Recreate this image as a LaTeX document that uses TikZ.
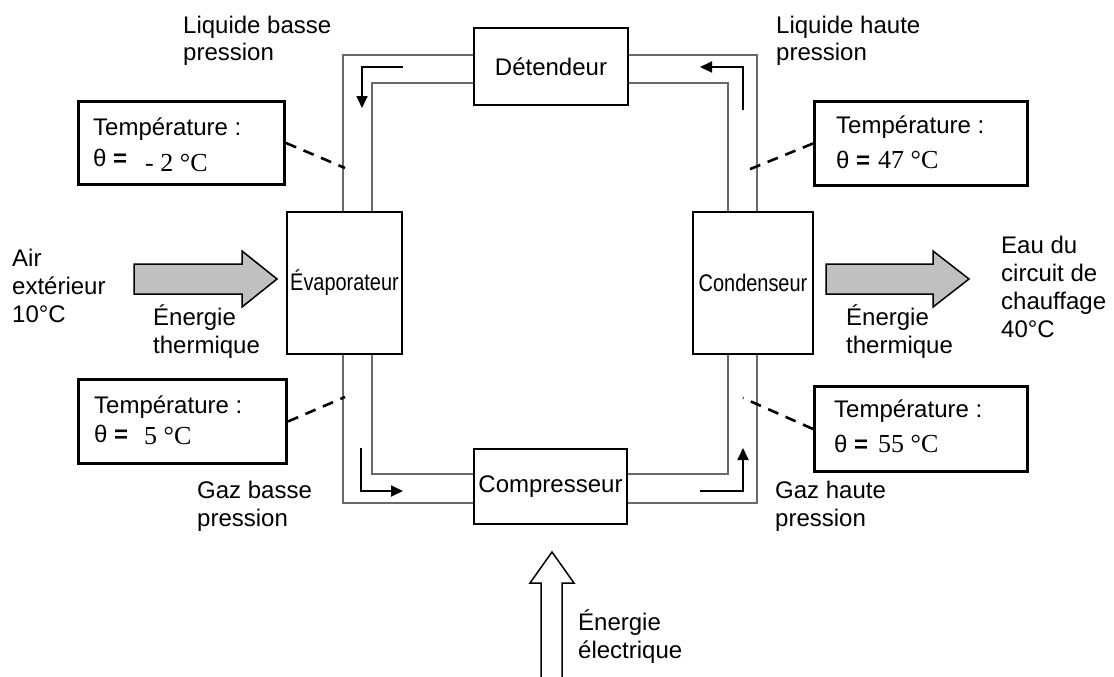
\documentclass[tikz,border=0pt]{standalone}
\usepackage{fontspec}
\setmainfont{Liberation Sans}
\newfontfamily\timesfont{Liberation Serif}
\usetikzlibrary{arrows.meta}

\tikzset{
  pipe/.style={draw={rgb,255:red,105;green,105;blue,105}, line width=2pt},
  unit/.style={draw, fill=white, line width=1.2pt, inner sep=0pt, font=\fontsize{24}{28}\selectfont},
  tempbox/.style={draw, line width=3pt, inner sep=0pt, anchor=north west},
  txt/.style={align=left, anchor=base west, inner sep=0pt, font=\fontsize{24}{28}\selectfont},
  flow/.style={line width=1.8pt, -{Triangle[length=12pt,width=11pt]}},
  probe/.style={line width=2.6pt, dash pattern=on 11pt off 8pt},
  heat/.style={draw, line width=1.5pt, line join=miter},
}
\newcommand{\narrow}[1]{\scalebox{0.83}[1]{#1}}

\begin{document}
\begin{tikzpicture}[x=1pt, y=-1pt]
    \useasboundingbox (0,0) rectangle (1114,677);

    \draw[pipe] (343,55) rectangle (757,503);
    \draw[pipe] (372,83) rectangle (728,474);

    \node[unit, minimum width=154pt, minimum height=77pt] (det) at (551,66.5) {Détendeur};
    \node[unit, minimum width=153pt, minimum height=75pt] (comp) at (550.5,486.5) {Compresseur};
    \node[unit, minimum width=115pt, minimum height=142pt] (evap) at (344.5,283) {\narrow{Évaporateur}};
    \node[unit, minimum width=120pt, minimum height=142pt] (cond) at (753,283) {\narrow{Condenseur}};

    \node[tempbox, minimum width=206pt, minimum height=83pt] (ttl) at (77,100) {};
    \node[tempbox, minimum width=208pt, minimum height=84pt] (tbl) at (77,378) {};
    \node[tempbox, minimum width=213pt, minimum height=84pt] (ttr) at (813,100) {};
    \node[tempbox, minimum width=213pt, minimum height=85pt] (tbr) at (813,385) {};

    \node[txt] (ttltxt) at (93,166) {Température :\\[3pt]θ \textbf{=}\hspace{18pt}\raisebox{-5pt}{\fontsize{26}{28}\timesfont - 2 °C}};
    \node[txt] (tbltxt) at (94,442) {Température :\\[1pt]θ \textbf{=}\hspace{16pt}\raisebox{-2pt}{\fontsize{26}{28}\timesfont 5 °C}};
    \node[txt] (ttrtxt) at (836,168) {Température :\\[7pt]θ \textbf{=}\hspace{8pt}{\fontsize{26}{28}\timesfont 47 °C}};
    \node[txt] (tbrtxt) at (834,452) {Température :\\[7pt]θ \textbf{=}\hspace{10pt}{\fontsize{26}{28}\timesfont 55 °C}};

    \coordinate (ptl) at (345,168);
    \coordinate (pbl) at (345,397);
    \coordinate (ptr) at (743,172);
    \coordinate (pbr) at (743,398);
    \draw[probe] (ttl.east) -- (ptl);
    \draw[probe] (tbl.east) -- (pbl);
    \draw[probe] (ttr.west) -- (ptr);
    \draw[probe] (tbr.west) -- (pbr);

    \coordinate (f1a) at (403,67);   \coordinate (f1b) at (362,108);
    \coordinate (f2a) at (743,110);  \coordinate (f2b) at (700,67);
    \coordinate (f3a) at (361,448);  \coordinate (f3b) at (403,491);
    \coordinate (f4a) at (700,491);  \coordinate (f4b) at (743,448);
    \draw[flow] (f1a) -| (f1b);
    \draw[flow] (f2a) |- (f2b);
    \draw[flow] (f3a) |- (f3b);
    \draw[flow] (f4a) -| (f4b);

    \draw[heat, fill={rgb,255:red,192;green,192;blue,192}] (134,264) -- (242,264) -- (242,251) -- (277,279) -- (242,307) -- (242,294) -- (134,294) -- cycle;
    \draw[heat, fill={rgb,255:red,192;green,192;blue,192}] (826,264) -- (933,264) -- (933,251) -- (969,279) -- (933,307) -- (933,294) -- (826,294) -- cycle;
    \draw[heat] (541,680) -- (541,583) -- (530,583) -- (552,552) -- (574,583) -- (562,583) -- (562,680);

    \node[txt] (air) at (12,322) {Air\\extérieur\\10°C};
    \node[txt] (eth1) at (153,353) {Énergie\\thermique};
    \node[txt] (eth2) at (846,353) {Énergie\\thermique};
    \node[txt] (eau) at (1001,337) {Eau du\\circuit de\\chauffage\\40°C};
    \node[txt] (lbp) at (183,61) {Liquide basse\\pression};
    \node[txt] (lhp) at (776,61) {Liquide haute\\pression};
    \node[txt] (gbp) at (197,526) {Gaz basse\\pression};
    \node[txt] (ghp) at (775,526) {Gaz haute\\pression};
    \node[txt] (elec) at (578,658) {Énergie\\électrique};

\end{tikzpicture}
\end{document}
